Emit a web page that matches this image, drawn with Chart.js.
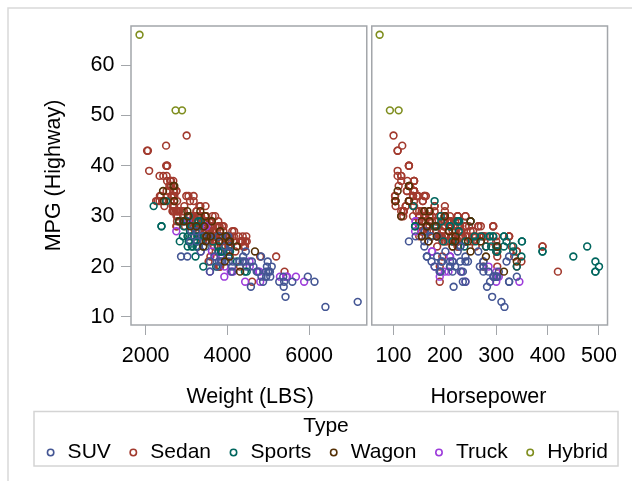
<!DOCTYPE html>
<html>
<head>
<meta charset="utf-8">
<title>MPG (Highway) by Weight and Horsepower</title>
<script src="https://cdn.jsdelivr.net/npm/chart.js@4.4.1/dist/chart.umd.min.js"></script>
<style>
	html, body { margin: 0; padding: 0; background: #fff; }
	canvas { display: block; }
</style>
</head>
<body>
<canvas id="chart" width="632" height="481"></canvas>
<script>
// one row per car: [weight (lbs), horsepower, mpg highway]
const suvCars = [
	[4451, 265, 23], [4023, 225, 23], [4824, 325, 22], [4600, 275, 21], [4024, 185, 26],
	[5367, 295, 18], [4302, 320, 21], [4947, 295, 18], [5050, 295, 18], [4425, 275, 21],
	[2866, 165, 22], [4987, 230, 21], [7190, 310, 13], [5000, 232, 19], [4463, 210, 20],
	[3346, 201, 23], [4945, 275, 19], [5042, 285, 19], [6133, 325, 17], [4387, 240, 22],
	[3258, 160, 25], [3468, 160, 24], [6400, 316, 12], [3549, 173, 26], [4967, 275, 20],
	[3836, 193, 21], [3790, 195, 21], [4115, 210, 20], [3575, 190, 19], [4112, 192, 19],
	[5379, 282, 16], [4576, 217, 16], [3577, 174, 21], [4740, 235, 19], [5590, 235, 17],
	[4065, 230, 24], [4834, 302, 18], [5969, 300, 18], [3091, 130, 25], [5423, 292, 14],
	[4874, 288, 17], [4374, 210, 21], [4134, 215, 21], [4718, 215, 19], [3240, 160, 27],
	[3871, 240, 21], [5013, 305, 19], [3760, 180, 20], [3779, 185, 26], [4950, 340, 18],
	[3381, 143, 26], [3682, 185, 22], [3020, 165, 22], [5390, 325, 17], [5270, 240, 17],
	[4035, 245, 21], [3935, 230, 24], [3119, 161, 27], [5086, 220, 20], [4638, 268, 20]
];
const sedanCars = [
	[2778, 200, 31], [3230, 200, 29], [3575, 270, 28], [3880, 225, 24], [3893, 225, 24],
	[3252, 170, 31], [3638, 170, 30], [3462, 220, 28], [3583, 220, 26], [3627, 220, 25],
	[3561, 220, 27], [3880, 220, 25], [3814, 220, 27], [4013, 220, 25], [3836, 250, 25],
	[4024, 300, 24], [4399, 330, 24], [3825, 340, 20],
	[3219, 184, 29], [3197, 184, 29], [3560, 184, 27], [3461, 184, 27], [3285, 225, 30],
	[3285, 225, 30], [3483, 225, 29], [3428, 184, 28], [3616, 225, 28], [3472, 225, 30],
	[3814, 325, 26], [4376, 325, 26], [4464, 325, 26],
	[3353, 175, 30], [3567, 205, 29], [3461, 200, 30], [3536, 240, 28], [3591, 205, 29],
	[3778, 205, 29], [3909, 240, 28],
	[3694, 255, 25], [3984, 275, 26], [4044, 300, 26], [3992, 275, 26],
	[2370, 103, 34], [2348, 103, 34], [2617, 140, 37], [2676, 140, 37], [2617, 140, 37],
	[3465, 180, 32], [3174, 145, 34], [3297, 200, 30], [3340, 180, 32], [3476, 200, 30],
	[3606, 240, 28], [3315, 200, 32], [3434, 200, 28], [4605, 190, 17], [3699, 185, 26],
	[3101, 150, 29], [3105, 150, 29], [3217, 220, 27], [3173, 150, 30], [3222, 200, 28],
	[3357, 150, 30], [3448, 200, 28], [3479, 200, 29], [3548, 232, 27], [3581, 250, 27],
	[3650, 255, 27], [4068, 215, 26], [4331, 215, 25],
	[2581, 132, 36], [2626, 132, 36], [3182, 150, 28], [3175, 150, 28], [3469, 200, 29],
	[3487, 232, 27], [4440, 215, 25], [3862, 150, 26],
	[2612, 130, 33], [2606, 110, 36], [2606, 130, 33], [2691, 130, 33], [2750, 170, 28],
	[3306, 155, 27], [3313, 201, 26], [4057, 224, 25], [4057, 224, 25], [4057, 239, 25],
	[4275, 201, 26], [4309, 190, 20],
	[2432, 115, 38], [2500, 117, 44], [2513, 115, 38], [2994, 160, 34], [3047, 160, 34],
	[2601, 127, 37], [2782, 160, 30], [3349, 240, 30], [3294, 240, 30], [4310, 240, 25],
	[4365, 240, 25],
	[2255, 103, 33], [2290, 103, 33], [2339, 103, 33], [2635, 138, 34], [2635, 138, 34],
	[2698, 138, 34], [3217, 170, 27], [3217, 170, 27], [3651, 194, 26], [3651, 194, 26],
	[3336, 260, 26], [3416, 280, 26], [3677, 260, 24], [3306, 255, 26], [3851, 340, 23],
	[3977, 340, 23],
	[3428, 192, 26], [3516, 227, 25], [3777, 235, 26], [3874, 294, 28], [4046, 390, 24],
	[3803, 294, 28], [3803, 294, 28], [3948, 390, 24],
	[3281, 138, 30], [2403, 104, 33], [2458, 104, 32], [2661, 124, 32], [2686, 124, 32],
	[2697, 124, 32], [3279, 170, 27], [4021, 195, 25], [4802, 195, 22],
	[3460, 225, 29], [3255, 215, 25], [3285, 215, 24], [3649, 220, 25], [3715, 300, 23],
	[3990, 290, 25],
	[3681, 232, 26], [3681, 232, 26], [3768, 280, 24], [3768, 280, 24], [4369, 239, 25],
	[4369, 239, 25], [4474, 239, 25],
	[2524, 115, 37], [2678, 163, 34],
	[2696, 148, 34], [2762, 160, 31], [3042, 160, 29], [3812, 200, 25],
	[3250, 189, 30], [3430, 215, 26], [3360, 168, 25], [3360, 168, 25], [3450, 215, 26],
	[3450, 215, 27], [3540, 349, 21], [3770, 215, 26], [3585, 302, 22], [3635, 221, 27],
	[3815, 302, 20], [4160, 275, 26], [4390, 302, 24],
	[3308, 155, 27], [4052, 224, 25], [4052, 224, 25], [4052, 224, 25], [3315, 201, 26],
	[4195, 302, 23], [4340, 201, 25],
	[2656, 120, 31], [2795, 120, 31], [3351, 160, 30], [2744, 120, 31], [3549, 205, 25],
	[3649, 230, 28],
	[2513, 126, 35], [2581, 126, 35], [3039, 175, 26], [3197, 245, 26], [3473, 265, 28],
	[3476, 265, 28], [2761, 165, 28], [4012, 240, 26], [4175, 240, 25],
	[2946, 140, 32], [3085, 170, 30], [3948, 185, 26],
	[2771, 140, 33], [3118, 175, 29], [3477, 200, 30], [3484, 200, 30], [3790, 275, 20],
	[3803, 185, 26], [4431, 185, 24],
	[3175, 210, 28], [3175, 210, 28], [3470, 220, 29], [3470, 250, 29], [3480, 210, 29],
	[3700, 210, 30],
	[2692, 140, 35], [2692, 140, 35], [2692, 140, 35], [2751, 140, 35], [2751, 140, 35],
	[3197, 182, 29], [2340, 108, 38],
	[2965, 165, 28], [3285, 165, 28], [3395, 165, 28], [3495, 165, 27], [3610, 212, 26],
	[3630, 212, 26],
	[2676, 155, 31], [2676, 145, 31], [2701, 119, 31], [2756, 119, 30], [3380, 155, 27],
	[2502, 130, 40], [2524, 130, 40], [2524, 130, 40], [2035, 108, 43], [2085, 108, 39],
	[2055, 108, 43], [3086, 157, 33], [3296, 210, 29], [3175, 157, 33], [3439, 225, 29],
	[3417, 210, 29], [3362, 210, 29], [3439, 225, 29], [3439, 210, 29], [4120, 230, 27],
	[4165, 230, 27],
	[2897, 115, 31], [2934, 180, 31], [3003, 100, 46], [2820, 150, 31], [3179, 200, 30],
	[3082, 115, 30], [3241, 170, 31], [3721, 190, 26], [3953, 270, 25], [5194, 335, 22],
	[5399, 420, 19],
	[2767, 170, 29], [3903, 208, 27], [3766, 247, 28], [3571, 300, 25], [3576, 208, 28],
	[3691, 194, 27], [3450, 197, 28], [3450, 242, 26], [3653, 268, 26]
];
const sportsCars = [
	[3153, 290, 24], [4024, 450, 22], [3131, 180, 28], [2921, 225, 29], [3351, 250, 29],
	[3415, 333, 24], [3781, 333, 23], [2932, 184, 28], [2998, 225, 29], [3647, 320, 25],
	[3246, 350, 25], [3248, 350, 25], [3060, 215, 25], [3410, 500, 20], [3290, 193, 29],
	[3347, 260, 25], [3780, 280, 24], [2835, 240, 25], [3023, 172, 26], [3779, 294, 26],
	[3980, 294, 26], [3865, 390, 23], [4042, 390, 23], [3840, 300, 23], [2387, 142, 28],
	[2387, 142, 28], [3053, 197, 25], [3029, 238, 24], [4085, 302, 24], [4473, 493, 19],
	[4065, 302, 23], [4235, 493, 21], [4429, 493, 19], [3055, 192, 30], [3220, 349, 22],
	[3241, 210, 28], [3296, 210, 28], [3263, 271, 26], [3188, 287, 26], [3428, 287, 26],
	[3725, 340, 20], [3135, 315, 26], [3240, 315, 24], [3119, 315, 26], [3131, 477, 24],
	[2811, 228, 29], [2911, 258, 26], [3085, 227, 27], [3263, 300, 24], [2500, 180, 33],
	[2195, 138, 32]
];
const wagonCars = [
	[3936, 340, 21], [4035, 220, 25], [3594, 184, 26], [3458, 200, 30], [4675, 250, 23],
	[2702, 130, 33], [3497, 155, 26], [4056, 280, 22], [4309, 315, 19], [2447, 104, 33],
	[3410, 215, 24], [3470, 168, 25], [3966, 221, 26], [4230, 302, 24], [3488, 155, 26],
	[3020, 160, 31], [3801, 245, 25], [2701, 130, 36], [3620, 250, 29], [3240, 182, 28],
	[2425, 108, 35], [3090, 165, 28], [3430, 165, 28], [2932, 155, 29], [2679, 130, 36],
	[3034, 115, 30], [3338, 170, 31], [4067, 270, 25], [2822, 170, 29], [3823, 208, 27]
];
const truckCars = [
	[5879, 345, 17], [5678, 295, 18], [3623, 175, 23], [4142, 200, 19], [4804, 300, 17],
	[4760, 300, 19], [3714, 210, 22], [3829, 210, 22], [4542, 215, 21], [4788, 231, 19],
	[5464, 300, 18], [3028, 143, 29], [3351, 175, 23], [4548, 285, 20], [5440, 300, 18],
	[4083, 190, 19], [2960, 143, 29], [3571, 207, 19], [3932, 180, 20], [5287, 305, 18],
	[3485, 165, 28], [2750, 142, 27], [3925, 190, 18], [4435, 240, 17]
];
const hybridCars = [
	[2732, 93, 51], [1850, 73, 66], [2890, 110, 51]
];

const types = ["SUV", "Sedan", "Sports", "Wagon", "Truck", "Hybrid"];
const carsByType = [suvCars, sedanCars, sportsCars, wagonCars, truckCars, hybridCars];
const typeColors = ["#445694", "#A23A2E", "#01665E", "#543005", "#9D3CDB", "#7F8E1F"];
// lower order is drawn on top, sedans sit underneath the rest
const drawOrder = [2, 6, 3, 1, 4, 0];

const weightTicks = [2000, 4000, 6000];
const horsepowerTicks = [100, 200, 300, 400, 500];
const mpgTicks = [10, 20, 30, 40, 50, 60];

const fontSize = 21.5;
const legendFontSize = 21;
const frameColor = "#a3a6aa";

function makeDatasets(axisId, column) {
	return types.map((type, i) => ({
		label: type,
		xAxisID: axisId,
		yAxisID: "y",
		order: drawOrder[i],
		data: carsByType[i].map(car => ({x: car[column], y: car[2]})),
		borderColor: typeColors[i],
		backgroundColor: "rgba(0,0,0,0)",
		pointStyle: "circle",
		pointRadius: 3.4,
		pointBorderWidth: 1.6,
		borderWidth: 1.6
	}));
}

function xScale(title, min, max, tickValues) {
	return {
		type: "linear",
		position: "bottom",
		stack: "panels",
		stackWeight: 1,
		min: min,
		max: max,
		afterBuildTicks: scale => { scale.ticks = tickValues.map(v => ({value: v})); },
		afterFit: scale => { scale.height = 86.5; },
		grid: {display: true, drawOnChartArea: false, drawTicks: true, tickLength: 10, color: frameColor, lineWidth: 1},
		border: {display: false},
		ticks: {padding: 8.4, autoSkip: false, maxRotation: 0, color: "#000", callback: v => String(v)},
		title: {display: true, text: title, color: "#000", padding: {top: 0, bottom: 1.1}}
	};
}

const panelFrames = {
	id: "panelFrames",
	beforeDraw(chart) {
		const ctx = chart.ctx;
		ctx.save();
		ctx.strokeStyle = "#d9d9d9";
		ctx.lineWidth = 1.5;
		ctx.beginPath();
		ctx.moveTo(8, chart.height);
		ctx.lineTo(8, 8);
		ctx.lineTo(chart.width, 8);
		ctx.stroke();
		ctx.restore();
	},
	beforeDatasetsDraw(chart) {
		const {ctx, chartArea, scales} = chart;
		const gap = 2.5;
		ctx.save();
		ctx.strokeStyle = frameColor;
		ctx.lineWidth = 1.5;
		ctx.strokeRect(scales.x1.left, chartArea.top, scales.x1.width - gap, chartArea.height);
		ctx.strokeRect(scales.x2.left + gap, chartArea.top, scales.x2.width - gap, chartArea.height);
		ctx.restore();
	},
	afterDraw(chart) {
		// box round the legend, narrower than the legend's own layout box
		const {ctx, legend} = chart;
		const boxWidth = 584;
		const center = legend.left + legend.width / 2;
		ctx.save();
		ctx.strokeStyle = "#d4d4d4";
		ctx.lineWidth = 1.5;
		ctx.strokeRect(center - boxWidth / 2, legend.top, boxWidth, legend.height - 7);
		ctx.restore();
	}
};

Chart.defaults.font.family = '"Liberation Sans", Arial, sans-serif';
Chart.defaults.font.size = fontSize;
Chart.defaults.color = "#000";

const options = {
	type: "scatter",
	data: {
		datasets: makeDatasets("x1", 0).concat(makeDatasets("x2", 1))
	},
	options: {
		responsive: false,
		animation: false,
		events: [],
		layout: {
			padding: {left: 20, right: 0, top: 26, bottom: 8}
		},
		scales: {
			x1: xScale("Weight (LBS)", 1641, 7473, weightTicks),
			x2: xScale("Horsepower", 52.8, 516.6, horsepowerTicks),
			y: {
				type: "linear",
				position: "left",
				min: 8.41,
				max: 67.74,
				afterBuildTicks: scale => { scale.ticks = mpgTicks.map(v => ({value: v})); },
				afterFit: scale => { scale.width = 111; },
				grid: {display: true, drawOnChartArea: false, drawTicks: true, tickLength: 10, color: frameColor, lineWidth: 1},
				border: {display: false},
				ticks: {padding: 6.5, autoSkip: false, color: "#000", callback: v => String(v)},
				title: {display: true, text: "MPG (Highway)", color: "#000", padding: {top: 20.7, bottom: 0}}
			},
			// empty spacer on the right so the panels end where the reference does
			spacer: {
				type: "linear",
				position: "right",
				display: true,
				afterFit: scale => { scale.width = 14; },
				grid: {display: false},
				border: {display: false},
				ticks: {display: false},
				title: {display: false}
			}
		},
		plugins: {
			tooltip: {enabled: false},
			legend: {
				position: "bottom",
				align: "center",
				title: {
					display: true,
					text: "Type",
					color: "#000",
					font: {size: legendFontSize, lineHeight: 0.5},
					padding: {top: 4, bottom: 0}
				},
				labels: {
					filter: item => item.datasetIndex < types.length,
					sort: (a, b) => a.datasetIndex - b.datasetIndex,
					usePointStyle: true,
					boxWidth: 13,
					boxHeight: 4.5,
					padding: 16,
					color: "#000",
					font: {size: legendFontSize}
				}
			}
		}
	},
	plugins: [panelFrames]
};

const chart = new Chart(document.getElementById("chart").getContext("2d"), options);
</script>
</body>
</html>
